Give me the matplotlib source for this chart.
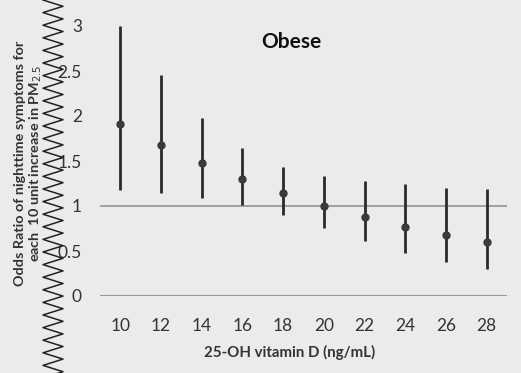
import numpy as np
import matplotlib
matplotlib.use("Agg")
import matplotlib.pyplot as plt
from matplotlib.lines import Line2D

# Data
vitamin_d = [10, 12, 14, 16, 18, 20, 22, 24, 26, 28]
odds_ratio = [1.91, 1.68, 1.48, 1.30, 1.14, 1.00, 0.88, 0.77, 0.68, 0.60]
ci_low = [1.18, 1.14, 1.09, 1.01, 0.90, 0.76, 0.61, 0.48, 0.38, 0.30]
ci_high = [3.00, 2.46, 1.98, 1.64, 1.43, 1.33, 1.28, 1.24, 1.20, 1.19]
y_ticks = [0, 0.5, 1, 1.5, 2, 2.5, 3]
y_tick_labels = ["0", "0.5", "1", "1.5", "2", "2.5", "3"]

plt.rcParams['font.family'] = ['Lato', 'DejaVu Sans']

W, H = 521, 373
fig = plt.figure(figsize=(W / 100, H / 100), dpi=100)
bg = "#ebebeb"
fig.patch.set_facecolor(bg)

ax = fig.add_axes([100 / W, 1 - 296 / H, 407 / W, 270 / H])
ax.set_facecolor(bg)
ax.set_xlim(9, 29)
ax.set_ylim(0, 3)
for s in ax.spines.values():
    s.set_visible(False)

ax.axhline(0, color="#9a9a9a", lw=1.5, zorder=1)
ax.axhline(1, color="#9a9a9a", lw=1.3, zorder=1)

x = np.array(vitamin_d)
y = np.array(odds_ratio)
lo = y - np.array(ci_low)
hi = np.array(ci_high) - y
ax.errorbar(x, y, yerr=[lo, hi], fmt="o", color="#3a3a3a", ecolor="#2a2a2a",
            elinewidth=2.0, capsize=0, markersize=5.0, zorder=3)

ax.set_xticks(vitamin_d)
ax.set_xticklabels([str(v) for v in vitamin_d])
ax.set_yticks(y_ticks)
ax.set_yticklabels(y_tick_labels)
ax.tick_params(axis="both", length=0, labelsize=12.5, colors="#333333")
ax.tick_params(axis="x", pad=16)
ax.tick_params(axis="y", pad=13)

fig.text(290 / W, 1 - 352 / H, "25-OH vitamin D (ng/mL)", fontsize=10.8,
         fontweight="bold", color="#333333", ha="center", va="center")
ax.text((291 - 100) / 407, (296 - 42) / 270, "Obese", transform=ax.transAxes,
        fontsize=15, fontweight="bold", color="#111111", ha="center", va="center")

fig.text(29 / W, 1 - 163 / H,
         "Odds Ratio of nighttime symptoms for\neach  10 unit increase in PM$_{2.5}$",
         rotation=90, fontsize=10.4, fontweight="bold", color="#333333",
         ha="center", va="center", linespacing=1.15)

# decorative zigzag break on the left
ys = np.arange(0, H + 14, 6.3)
xs = np.where(np.arange(len(ys)) % 2 == 0, 43, 63)
fig.add_artist(Line2D(xs / W, 1 - ys / H, transform=fig.transFigure,
                      color="#222222", lw=1.1))

fig.savefig("out.png", dpi=100, facecolor=bg)
